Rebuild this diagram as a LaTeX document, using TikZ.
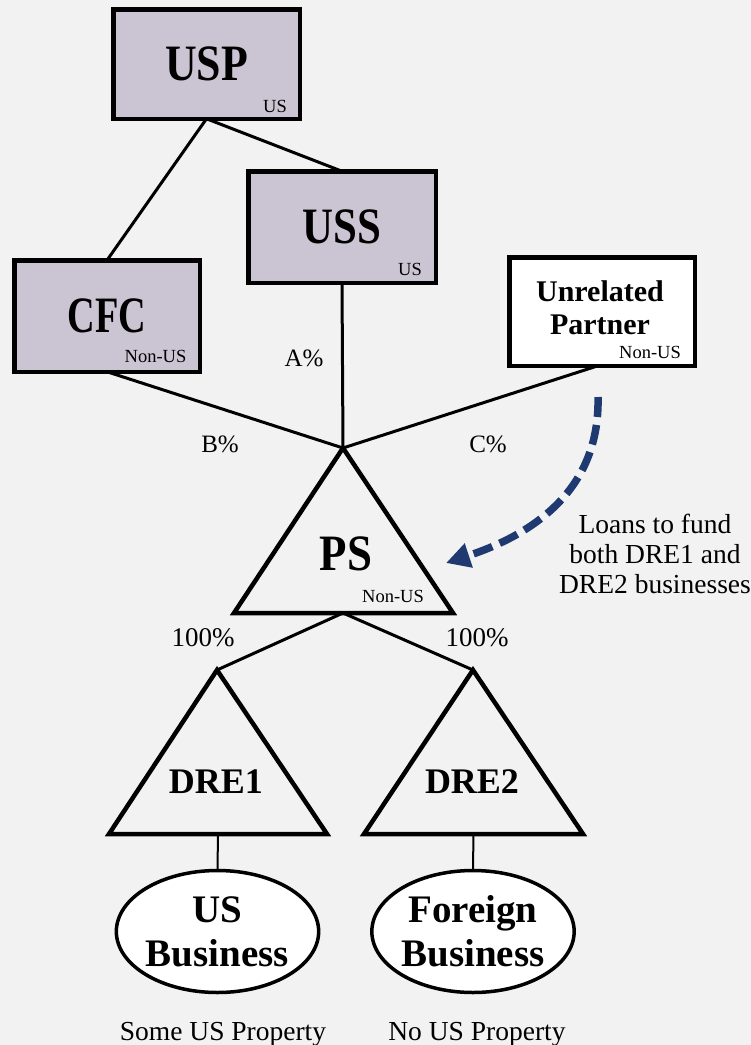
\documentclass[tikz,border=0pt]{standalone}
\usepackage{graphicx}
\usepackage{fontspec}
\setmainfont{Liberation Serif}
\usetikzlibrary{shapes.geometric,arrows.meta}

\definecolor{pagebg}{HTML}{F2F2F2}
\definecolor{entityfill}{HTML}{CBC4D3}
\definecolor{loanblue}{HTML}{1F3A70}

% horizontally condensed heading text
\newcommand{\narrowtext}[2]{\scalebox{#1}[1]{#2}}

\begin{document}
\begin{tikzpicture}[x=1pt, y=-1pt, line join=miter,
  entity/.style={draw, line width=4.5pt, fill=entityfill, rectangle,
    inner sep=0pt, outer sep=0pt, font=\bfseries\fontsize{51}{51}\selectfont},
  partnerbox/.style={entity, fill=white},
  tag/.style={font=\fontsize{18.5}{18.5}\selectfont, inner sep=0pt},
  share/.style={font=\fontsize{25}{25}\selectfont, inner sep=0pt, anchor=base},
  whole/.style={font=\fontsize{27}{27}\selectfont, inner sep=0pt, anchor=base},
  link/.style={line width=3pt},
  drop/.style={line width=2pt},
  tri/.style={line width=4.5pt},
  trilabel/.style={font=\bfseries\fontsize{36}{36}\selectfont, inner sep=0pt, anchor=base},
  biz/.style={draw, ellipse, line width=3.5pt, fill=white, minimum width=200pt,
    minimum height=122pt, inner sep=0pt, align=center,
    font=\bfseries\fontsize{39}{44}\selectfont},
  note/.style={font=\fontsize{27.5}{30}\selectfont, inner sep=0pt, align=center},
  loanarrow/.style={draw=loanblue, line width=7.5pt, dash pattern=on 20pt off 8pt,
    -{Triangle[length=24pt,width=24pt,fill=loanblue]}},
]
\useasboundingbox (0,0) rectangle (751,1045);
\fill[pagebg] (0,0) rectangle (751,1045);

% ---- corporate entities ----
\node[entity, minimum width=186.5pt, minimum height=109.5pt] (usp) at (206.5,64) {\narrowtext{0.86}{USP}};
\node[entity, minimum width=187.5pt, minimum height=111.5pt] (uss) at (342,227) {\narrowtext{0.84}{USS}};
\node[entity, minimum width=185.5pt, minimum height=111.5pt] (cfc) at (107,316) {\narrowtext{0.75}{CFC}};
\node[partnerbox, minimum width=185.5pt, minimum height=108.5pt] (partner) at (602,311.5) {};
\node[font=\bfseries\fontsize{30}{33}\selectfont, inner sep=0pt, align=center] (partnername) at (600,308) {Unrelated\\Partner};

\node[tag] (uspres) at (275,106) {US};
\node[tag] (ussres) at (410,269) {US};
\node[tag] (cfcres) at (155.5,356.5) {Non-US};
\node[tag] (partnerres) at (650,352.5) {Non-US};

% ---- ownership lines ----
\coordinate (psapex) at (343,448);
\draw[link] (usp.south) -- (cfc.north);
\draw[link] (usp.south) -- (uss.north);
\draw[link] (uss.south) -- (psapex);
\draw[link] (cfc.south) -- (psapex);
\draw[link] ([xshift=-4pt]partner.south) -- (psapex);

\node[share] (pcta) at (304,366) {A\%};
\node[share] (pctb) at (220,452) {B\%};
\node[share] (pctc) at (488,452) {C\%};

% ---- partnership ----
\coordinate (psleft) at (234,613);
\coordinate (psright) at (453,613);
\coordinate (psbase) at (343,613);
\draw[tri] (psapex) -- (psright) -- (psleft) -- cycle;
\node[font=\bfseries\fontsize{51}{51}\selectfont, inner sep=0pt] (psname) at (346,553.5) {\narrowtext{0.88}{PS}};
\node[tag] (psres) at (393,596.5) {Non-US};

% ---- disregarded entities ----
\coordinate (dreoneapex) at (217,670);
\coordinate (dreoneleft) at (109,834);
\coordinate (dreoneright) at (327,834);
\coordinate (dreonebase) at (218,834);
\coordinate (dretwoapex) at (473,670);
\coordinate (dretwoleft) at (364,834);
\coordinate (dretworight) at (583,834);
\coordinate (dretwobase) at (473.5,834);

\draw[link] (psbase) -- (dreoneapex);
\draw[link] (psbase) -- (dretwoapex);
\node[whole] (pctone) at (203,646) {100\%};
\node[whole] (pcttwo) at (477,646) {100\%};

\draw[tri] (dreoneapex) -- (dreoneright) -- (dreoneleft) -- cycle;
\draw[tri] (dretwoapex) -- (dretworight) -- (dretwoleft) -- cycle;
\node[trilabel] (dreone) at (216,793) {DRE1};
\node[trilabel] (dretwo) at (472,793) {DRE2};

% ---- businesses ----
\node[biz] (usbiz) at (217.5,931.5) {US\\Business};
\node[biz] (fbiz) at (473,931.5) {Foreign\\Business};
\draw[drop] (dreonebase) -- (usbiz.north);
\draw[drop] (dretwobase) -- (fbiz.north);

\node[whole, font=\fontsize{27.5}{27.5}\selectfont] (usprop) at (223,1040) {Some US Property};
\node[whole, font=\fontsize{27.5}{27.5}\selectfont] (noprop) at (477,1040) {No US Property};

% ---- loan flow ----
\coordinate (loanstart) at (598,397);
\coordinate (loanend) at (446,563);
\draw[loanarrow] (loanstart) .. controls (600,485) and (540,532) .. (loanend);
\node[note] (loannote) at (655,553.5) {Loans to fund\\both DRE1 and\\DRE2 businesses};
\end{tikzpicture}
\end{document}
